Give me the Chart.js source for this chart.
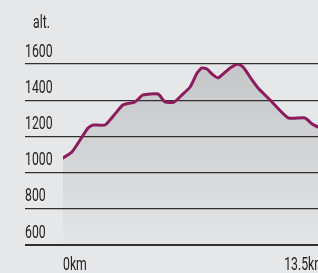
<!DOCTYPE html>
<html>
<head>
<meta charset="utf-8">
<script src="https://cdn.jsdelivr.net/npm/chart.js@4.4.1/dist/chart.umd.min.js"></script>
<style>
  html, body { margin: 0; padding: 0; background: #e6e7e9; overflow: hidden; width: 318px; height: 273px; }
  #wrap { position: absolute; left: 0; top: 0; width: 325px; height: 273px; }
  #c { width: 325px; height: 273px; display: block; }
</style>
</head>
<body>
<div id="wrap"><canvas id="c" width="325" height="273"></canvas></div>
<script>
const distanceKm = [0, 0.46, 0.88, 1.29, 1.55, 2.16, 2.68, 3.09, 3.71, 4.12, 4.90, 5.26, 5.72, 6.13, 6.55, 6.91, 7.16, 7.42, 7.68, 7.99, 8.61, 9.02, 9.28, 9.74, 10.05, 10.67, 11.60, 12.47, 12.84, 13.14, 13.5];
const altitudeM  = [1081, 1114, 1180, 1246, 1263, 1263, 1324, 1374, 1390, 1429, 1434, 1390, 1390, 1429, 1473, 1550, 1578, 1572, 1545, 1523, 1578, 1600, 1583, 1512, 1467, 1401, 1302, 1302, 1268, 1252, 1240];
const yTicks = [600, 800, 1000, 1200, 1400, 1600];
const xTicks = [0, 13.5];
const xUnit = 'km';
const yTitle = 'alt.';

const FONT = "Roboto, 'DejaVu Sans Condensed', sans-serif";
const FONT_SIZE = 18;
const CONDENSE = 0.68;
const points = distanceKm.map((d, i) => ({ x: d, y: altitudeM[i] }));

// draw text horizontally condensed around its own anchor point
function condensedFill(ctx, orig) {
  return function (text, x, y, maxW) {
    ctx.save();
    ctx.translate(x, y);
    ctx.scale(CONDENSE, 1);
    orig.call(ctx, text, 0, 0);
    ctx.restore();
  };
}

const condensedLabels = {
  id: 'condensedLabels',
  beforeDraw(chart) {
    Object.values(chart.scales).forEach((scale) => {
      if (scale._condensed) return;
      const origDraw = scale.drawLabels;
      scale.drawLabels = function (area) {
        const ctx = this.ctx;
        const origFill = ctx.fillText;
        ctx.fillText = condensedFill(ctx, origFill);
        try { origDraw.call(this, area); } finally { ctx.fillText = origFill; }
      };
      scale._condensed = true;
    });
  },
  afterDraw(chart) {
    const c = chart.ctx;
    c.save();
    c.font = FONT_SIZE + 'px ' + FONT;
    c.fillStyle = '#222';
    c.textBaseline = 'middle';
    c.textAlign = 'left';
    c.translate(33, 23);
    c.scale(CONDENSE, 1);
    c.fillText(yTitle, 0, 0);
    c.restore();
  }
};

new Chart(document.getElementById('c'), {
  type: 'line',
  data: {
    datasets: [{
      data: points,
      borderColor: '#8c1c5e',
      borderWidth: 3,
      borderJoinStyle: 'round',
      borderCapStyle: 'round',
      tension: 0.18,
      pointRadius: 0,
      fill: 'start',
      backgroundColor: (ctx) => {
        const { chart } = ctx;
        const area = chart.chartArea;
        if (!area) return '#cfd0d2';
        const g = chart.ctx.createLinearGradient(0, area.top, 0, area.bottom);
        g.addColorStop(0, '#c5c6c8');
        g.addColorStop(0.5, '#d4d5d7');
        g.addColorStop(1, '#e4e5e7');
        return g;
      }
    }]
  },
  options: {
    responsive: false,
    animation: false,
    devicePixelRatio: 1,
    layout: { padding: { left: 25, top: 64, right: 0, bottom: 0 } },
    plugins: {
      legend: { display: false },
      tooltip: { enabled: false },
      filler: { drawTime: 'beforeDraw' }
    },
    scales: {
      x: {
        type: 'linear',
        min: 0,
        max: 13.5,
        afterBuildTicks: (s) => { s.ticks = xTicks.map(v => ({ value: v })); },
        afterFit: (s) => { s.height = 28; },
        grid: { display: false, drawTicks: true, tickLength: 10 },
        border: { display: false },
        ticks: {
          align: 'inner',
          maxRotation: 0,
          padding: 0,
          color: '#222',
          font: { family: FONT, size: FONT_SIZE },
          callback: (v) => v + xUnit
        }
      },
      y: {
        min: 600,
        max: 1600,
        afterBuildTicks: (s) => { s.ticks = yTicks.map(v => ({ value: v })); },
        afterFit: (s) => { s.width = 38; },
        grid: {
          color: '#303030',
          lineWidth: (ctx) => (ctx.tick && ctx.tick.value === 600 ? 2 : 1.2),
          drawTicks: true,
          tickLength: 38
        },
        border: { display: false },
        ticks: {
          crossAlign: 'far',
          labelOffset: -12,
          padding: 0,
          color: '#222',
          font: { family: FONT, size: FONT_SIZE },
          callback: (v) => String(v)
        }
      }
    }
  },
  plugins: [condensedLabels]
});
</script>
</body>
</html>
